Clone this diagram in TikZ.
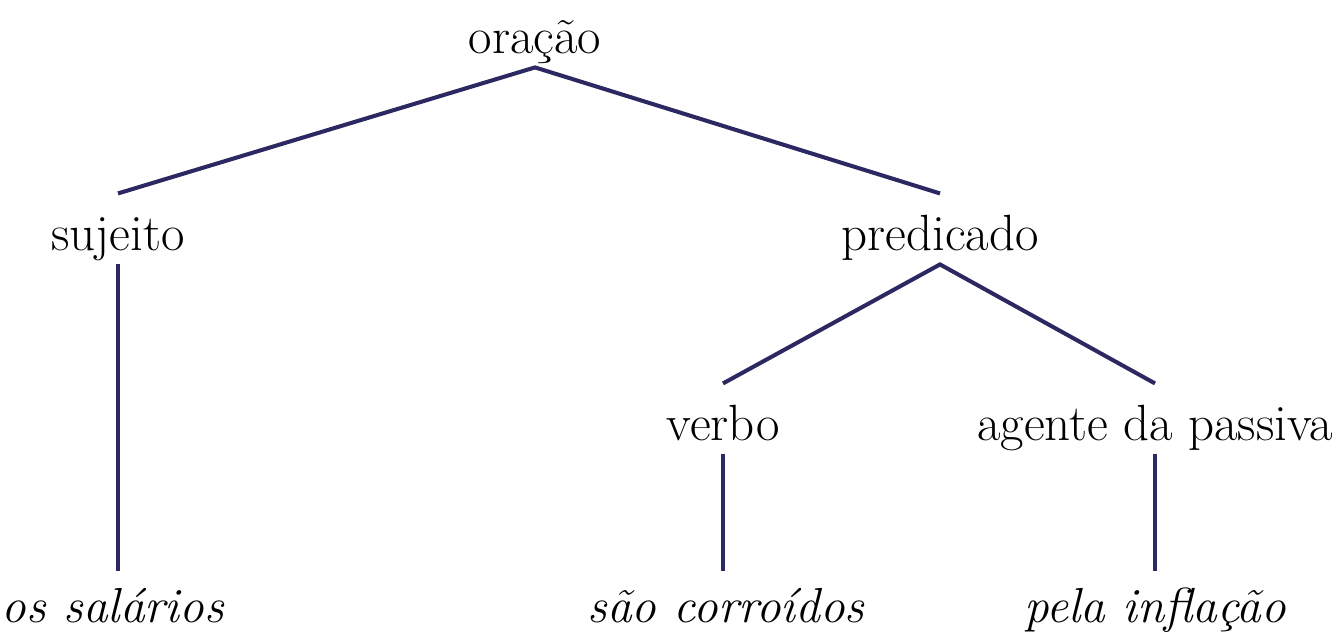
\documentclass[tikz,border=0pt]{standalone}
\usepackage{tikz}
\definecolor{navy}{HTML}{2B2862}
\tikzstyle{word}=[anchor=base,inner sep=0pt,font=\fontsize{29}{34}\selectfont,
                  text height=32pt,text depth=8pt]
\tikzstyle{leaf}=[word,font=\fontsize{28}{33}\selectfont\itshape,text height=29pt]
\tikzstyle{branch}=[draw=navy,line width=2.3pt]

\begin{document}
\begin{tikzpicture}[x=0.02cm,y=-0.02cm]
    \useasboundingbox (0,0) rectangle (1342,637);
    \node (oracao) at (535, 53) [word]{oração};
    \node (sujeito) at (118, 250) [word]{sujeito};
    \node (predicado) at (940, 250) [word]{predicado};
    \node (verbo) at (723, 440) [word]{verbo};
    \node (agente) at (1155, 440) [word]{agente da passiva};
    \node (salarios) at (113, 622) [leaf]{os salários};
    \node (corroidos) at (726, 622) [leaf]{são corroídos};
    \node (inflacao) at (1155, 622) [leaf]{pela inflação};
    \draw[branch] (sujeito.north) -- (oracao.south) -- (predicado.north);
    \draw[branch] (verbo.north) -- (predicado.south) -- (agente.north);
    \draw[branch] (sujeito.south) -- (sujeito.south |- salarios.north);
    \draw[branch] (verbo.south) -- (verbo.south |- corroidos.north);
    \draw[branch] (agente.south) -- (agente.south |- inflacao.north);
  \end{tikzpicture}
\end{document}
